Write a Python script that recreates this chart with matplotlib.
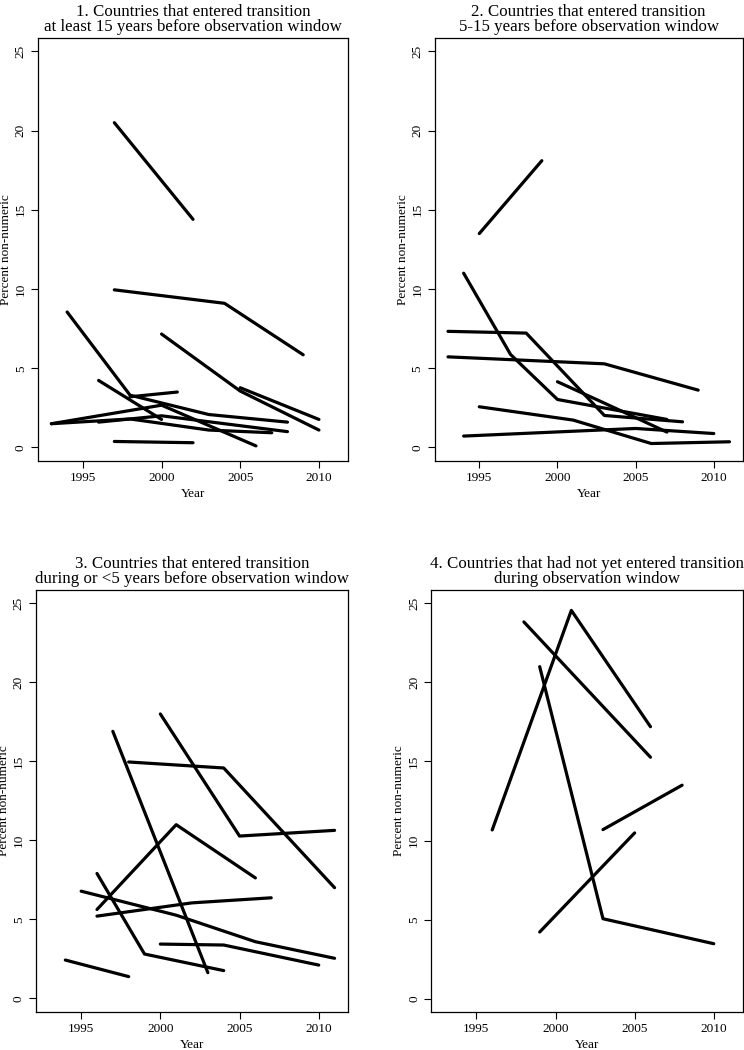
import matplotlib
matplotlib.use("Agg")
import matplotlib.pyplot as plt

plt.rcParams['font.family'] = ['Liberation Serif', 'DejaVu Serif']

# panel titles
titles = [
    "1. Countries that entered transition\nat least 15 years before observation window",
    "2. Countries that entered transition\n5-15 years before observation window",
    "3. Countries that entered transition\nduring or <5 years before observation window",
    "4. Countries that had not yet entered transition\nduring observation window",
]

# one list per country: survey years and percent non-numeric
p1_years = [[1997, 2002], [1997, 2004, 2009], [1994, 1998, 2003, 2008],
            [2000, 2005, 2010], [2005, 2010], [1996, 2000], [1993, 2000, 2006],
            [1998, 2001], [1993, 1998, 2003, 2007], [1996, 2000, 2008], [1997, 2002]]
p1_vals = [[20.5, 14.4], [9.95, 9.1, 5.85], [8.55, 3.3, 2.08, 1.6],
           [7.16, 3.56, 1.1], [3.77, 1.77], [4.23, 1.77], [1.5, 2.67, 0.1],
           [3.2, 3.5], [1.5, 1.8, 1.1, 0.93], [1.6, 2.0, 1.0], [0.38, 0.3]]

p2_years = [[1995, 1999], [1994, 1997, 2000, 2007], [1993, 1998, 2003, 2008],
            [1993, 2003, 2009], [2000, 2003, 2007], [1995, 2001, 2006, 2011],
            [1994, 2005, 2010]]
p2_vals = [[13.5, 18.1], [11.0, 5.87, 3.03, 1.77], [7.33, 7.22, 2.02, 1.62],
           [5.72, 5.28, 3.62], [4.15, 2.8, 0.97], [2.57, 1.73, 0.25, 0.36],
           [0.72, 1.2, 0.88]]

p3_years = [[1997, 2003], [2000, 2005, 2011], [1998, 2004, 2011],
            [1996, 2001, 2006], [1996, 1999, 2004], [1995, 2001, 2006, 2011],
            [1996, 2002, 2007], [2000, 2004, 2010], [1994, 1998]]
p3_vals = [[16.9, 1.62], [18.0, 10.27, 10.63], [14.96, 14.58, 7.0],
           [5.62, 10.99, 7.62], [7.9, 2.8, 1.75], [6.78, 5.26, 3.58, 2.53],
           [5.2, 6.04, 6.36], [3.43, 3.37, 2.1], [2.42, 1.37]]

p4_years = [[1996, 2001, 2006], [1998, 2006], [1999, 2003, 2010],
            [1999, 2005], [2003, 2008]]
p4_vals = [[10.67, 24.56, 17.2], [23.83, 15.27], [21.0, 5.05, 3.47],
           [4.21, 10.48], [10.69, 13.5]]

x_ticks = [1995, 2000, 2005, 2010]
y_ticks = [0, 5, 10, 15, 20, 25]

panels = [(p1_years, p1_vals), (p2_years, p2_vals),
          (p3_years, p3_vals), (p4_years, p4_vals)]

# axes boxes in figure fractions (left, bottom, width, height)
boxes = [
    [0.0511, 0.561, 0.4167, 0.4029],
    [0.5843, 0.561, 0.4140, 0.4029],
    [0.0484, 0.0365, 0.4194, 0.4016],
    [0.5797, 0.0362, 0.4190, 0.4019],
]

fig = plt.figure(figsize=(7.44, 10.5), dpi=100)

for (years, vals), box, title in zip(panels, boxes, titles):
    ax = fig.add_axes(box)
    for yr, v in zip(years, vals):
        ax.plot(yr, v, color='black', lw=2.3, solid_capstyle='round',
                solid_joinstyle='round')
    ax.set_xlim(1992.15, 2011.85)
    ax.set_ylim(-0.85, 25.85)
    ax.set_xticks(x_ticks)
    ax.set_yticks(y_ticks)
    ax.set_yticklabels([str(t) for t in y_ticks], rotation=90, va='center')
    ax.tick_params(direction='out', length=5, width=0.8, labelsize=9.5, pad=3)
    for s in ax.spines.values():
        s.set_linewidth(0.9)
    ax.set_xlabel("Year", fontsize=9.5, labelpad=3)
    ax.set_ylabel("Percent non-numeric", fontsize=9.5, labelpad=2)
    ax.set_title(title, fontsize=12.2, linespacing=0.95, pad=5)

fig.savefig("out.png", dpi=100)
